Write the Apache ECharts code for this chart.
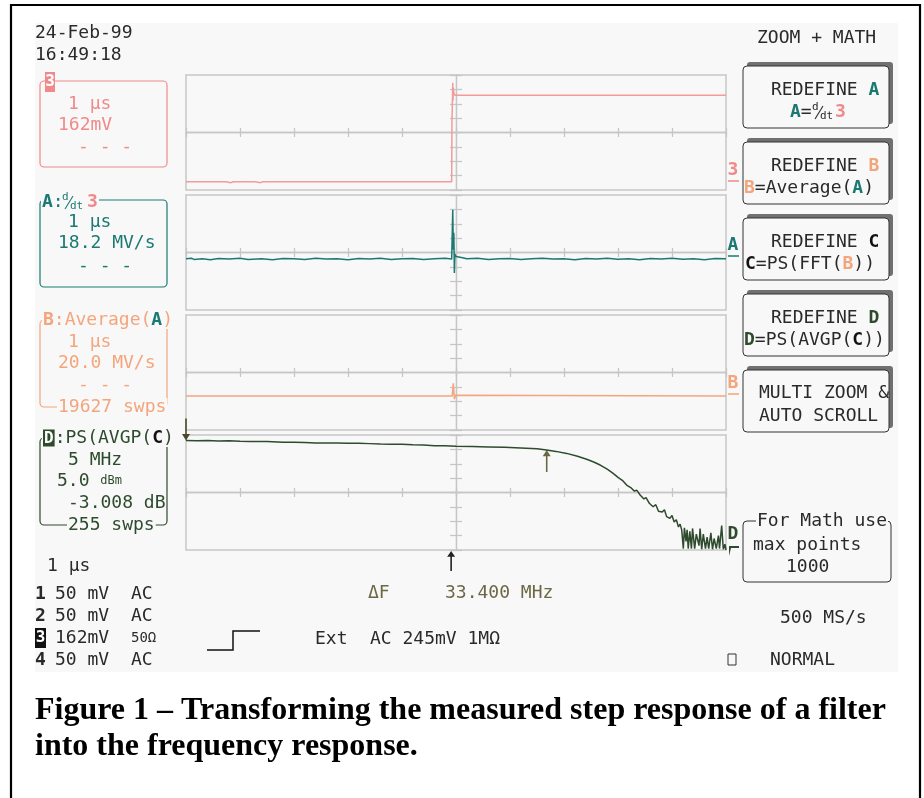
<!DOCTYPE html>
<html><head><meta charset="utf-8">
<script src="https://cdn.jsdelivr.net/npm/echarts@6/dist/echarts.min.js"></script>
<style>html,body{margin:0;padding:0;background:#fff}#c{width:924px;height:798px}</style>
</head><body><div id="c"></div>
<script>
// ---------- DATA (divisions: x -5..5, y -4..4) ----------
const xRange = [-5, 5];
const yRange = [-4, 4];
const ch3Trace = [[-5,-3.43],[-4.48,-3.43],[-4.46,-3.37],[-4.43,-3.43],[-4.3,-3.43],[-4.28,-3.37],[-4.25,-3.43],[-4.18,-3.49],[-4.12,-3.43],[-3.8,-3.43],[-3.78,-3.49],[-3.72,-3.43],[-3.62,-3.49],[-3.58,-3.43],[-3.0,-3.43],[-2.98,-3.37],[-2.95,-3.43],[-2.72,-3.43],[-2.7,-3.37],[-2.66,-3.43],[-2.45,-3.43],[-2.43,-3.49],[-2.4,-3.43],[-2.12,-3.43],[-2.1,-3.37],[-2.06,-3.43],[-1.76,-3.43],[-1.74,-3.49],[-1.7,-3.43],[-1.4,-3.43],[-1.38,-3.37],[-1.35,-3.43],[-0.6,-3.43],[-0.58,-3.49],[-0.55,-3.43],[-0.08,-3.43],[-0.075,0.6],[-0.06,3.46],[-0.055,2.2],[-0.05,3.1],[-0.04,2.75],[-0.02,2.6],[0.2,2.6],[0.22,2.54],[0.25,2.6],[0.6,2.6],[0.62,2.66],[0.65,2.6],[1.0,2.6],[1.03,2.54],[1.06,2.6],[1.5,2.6],[1.52,2.66],[1.56,2.6],[2.1,2.6],[2.13,2.54],[2.16,2.6],[2.7,2.6],[2.72,2.66],[2.75,2.6],[3.3,2.6],[3.32,2.54],[3.35,2.6],[3.9,2.6],[3.93,2.66],[3.96,2.6],[4.5,2.6],[4.52,2.54],[4.55,2.6],[4.8,2.6],[4.83,2.68],[4.86,2.6],[5,2.6]];
const chATrace = [[-5,-0.44],[-4.9,-0.4],[-4.85,-0.48],[-4.7,-0.44],[-4.55,-0.5],[-4.4,-0.42],[-4.2,-0.46],[-4.0,-0.4],[-3.85,-0.48],[-3.6,-0.44],[-3.4,-0.5],[-3.2,-0.42],[-3.0,-0.44],[-2.8,-0.48],[-2.6,-0.4],[-2.4,-0.46],[-2.2,-0.44],[-2.0,-0.5],[-1.8,-0.42],[-1.6,-0.45],[-1.4,-0.4],[-1.2,-0.48],[-1.0,-0.44],[-0.8,-0.42],[-0.6,-0.48],[-0.4,-0.44],[-0.2,-0.4],[-0.08,-0.46],[-0.06,2.98],[-0.05,0.2],[-0.04,1.37],[-0.03,-1.42],[-0.02,-0.1],[0.0,-0.28],[0.1,-0.35],[0.2,-0.44],[0.4,-0.4],[0.6,-0.48],[0.8,-0.44],[1.0,-0.42],[1.2,-0.48],[1.4,-0.44],[1.6,-0.4],[1.8,-0.46],[2.0,-0.44],[2.2,-0.5],[2.4,-0.42],[2.6,-0.46],[2.8,-0.4],[3.0,-0.47],[3.2,-0.44],[3.4,-0.5],[3.6,-0.42],[3.8,-0.46],[4.0,-0.4],[4.2,-0.47],[4.4,-0.44],[4.6,-0.5],[4.8,-0.42],[5,-0.44]];
const chBTrace = [[-5,-1.63],[-1.0,-1.63],[-0.07,-1.63],[-0.05,-0.75],[-0.04,-1.3],[-0.03,-1.85],[-0.01,-1.58],[0.02,-1.63],[5,-1.63]];
const chDTrace = [[-5,3.62],[-4.8,3.6],[-4.6,3.62],[-4.4,3.58],[-4.2,3.6],[-4.0,3.56],[-3.8,3.55],[-3.5,3.54],[-3.2,3.5],[-3.0,3.5],[-2.8,3.48],[-2.6,3.45],[-2.4,3.44],[-2.2,3.45],[-2.0,3.42],[-1.8,3.42],[-1.6,3.4],[-1.4,3.37],[-1.2,3.36],[-1.0,3.35],[-0.8,3.32],[-0.6,3.3],[-0.4,3.26],[-0.2,3.25],[0,3.22],[0.3,3.2],[0.6,3.17],[0.9,3.14],[1.2,3.1],[1.5,3.05],[1.68,2.96],[1.85,2.86],[2.05,2.72],[2.25,2.52],[2.42,2.31],[2.55,2.12],[2.67,1.91],[2.8,1.62],[2.91,1.33],[3.0,1.05],[3.08,0.85],[3.16,0.52],[3.25,0.3],[3.3,0.1],[3.35,0.15],[3.41,-0.17],[3.48,-0.45],[3.52,-0.35],[3.58,-0.75],[3.65,-0.99],[3.7,-0.85],[3.75,-1.3],[3.82,-1.35],[3.86,-1.2],[3.9,-1.68],[3.96,-1.8],[4.0,-1.6],[4.04,-2.05],[4.08,-1.9],[4.12,-2.4],[4.15,-2.2],[4.18,-2.6],[4.2,-2.5],[4.21,-3.9],[4.23,-2.45],[4.26,-3.4],[4.28,-2.6],[4.3,-3.9],[4.33,-2.7],[4.36,-3.9],[4.38,-2.5],[4.42,-3.9],[4.45,-2.9],[4.5,-3.7],[4.52,-2.5],[4.55,-3.95],[4.58,-2.9],[4.62,-3.9],[4.65,-3.1],[4.68,-3.9],[4.72,-2.8],[4.75,-3.95],[4.78,-3.2],[4.82,-3.9],[4.86,-3.0],[4.88,-3.9],[4.92,-2.3],[4.95,-3.95],[4.98,-3.6],[5,-4]];
const cursorRef = [-5, 3.62];     // start marker on D
const cursorFreq = [1.68, 2.96];  // cursor on D
const cursorTime = [-0.09, -4];   // marker below D

// ---------- STYLE ----------
const MONO = '"DejaVu Sans Mono", monospace';
const SCR = '#f8f8f8', GRIDC = '#c6c6c6';
const SAL = '#f08a8a', TEAL = '#1a7a72', ORG = '#f4a57c', DGR = '#2e4b2e', OLV = '#6b6845', INK = '#2a2a2a';
const gridTops = [75, 195, 315, 435];

function font(sz, w){ return (w||'normal') + ' ' + sz + 'px ' + MONO; }
function T(x, y, text, o){
  o = o || {};
  const st = {text: text, fill: o.fill || INK, font: font(o.size||18, o.weight),
    align: o.align || 'left', verticalAlign: 'middle', textAlign: o.align || 'left', textVerticalAlign: 'middle'};
  if (o.rich) st.rich = o.rich;
  if (o.bg) { st.backgroundColor = o.bg; st.padding = [0,1,0,1]; }
  return {type:'text', x: x, y: y, z: o.z || 20, style: st};
}
function R(x, y, w, h, o){
  o = o || {};
  return {type:'rect', z: o.z == null ? 10 : o.z, shape:{x:x, y:y, width:w, height:h, r: o.r || 0},
    style:{fill: o.fill || 'none', stroke: o.stroke || null, lineWidth: o.lw || 1.2}};
}
function L(pts, color, lw, z){ return {type:'polyline', z: z||15, shape:{points: pts}, style:{stroke: color, lineWidth: lw||1.3, fill:'none'}}; }
function rs(fill, sz, w, extra){ return Object.assign({fill: fill, fontSize: sz||18, fontFamily: MONO, fontWeight: w||'normal'}, extra||{}); }
// stacked d/dt glyph
function frac(x, y, color){
  return [
    T(x, y-5, 'd', {fill: color, size: 11, z: 22}),
    L([[x+3, y+7], [x+11, y-6]], color, 1.1, 22),
    T(x+8, y+4, 'dt', {fill: color, size: 11, z: 22})
  ];
}

const g = [];
// frame & screen
g.push(R(11, 5, 909, 810, {stroke:'#000', lw:2.2, z:-20}));
g.push(R(35, 23, 863, 649, {fill: SCR, z:-15}));
// date
g.push(T(35, 33, '24-Feb-99'));
g.push(T(35, 55, '16:49:18'));
// Box 3
g.push(R(40, 81, 127, 86, {stroke: SAL, r: 4}));
g.push(R(45, 72, 10, 20, {fill: SAL, z: 18}));
g.push(T(50, 82, '3', {fill:'#fff', weight:'bold', size:16, align:'center'}));
g.push(T(68, 104, '1 µs', {fill: SAL}));
g.push(T(58, 125, '162mV', {fill: SAL}));
g.push(T(78, 147, '- - -', {fill: SAL}));
// Box A
g.push(R(40, 200, 127, 87, {stroke: TEAL, r: 4}));
g.push(R(41, 194, 58, 12, {fill: SCR, z: 12}));
g.push(T(42, 202, '{a|A}:', {fill: TEAL, rich:{a: rs(TEAL,18,'bold')}}));
frac(62, 202, TEAL).forEach(function(e){ g.push(e); });
g.push(T(87, 202, '3', {fill: SAL, weight:'bold'}));
g.push(T(68, 222, '1 µs', {fill: TEAL}));
g.push(T(58, 243, '18.2 MV/s', {fill: TEAL}));
g.push(T(78, 266, '- - -', {fill: TEAL}));
// Box B
g.push(R(40, 320, 127, 87, {stroke: ORG, r: 4}));
g.push(T(42, 320, '{b|B}:Average({t|A})', {fill: ORG, bg: SCR, rich:{b: rs(ORG,18,'bold'), t: rs(TEAL,18,'bold')}}));
g.push(T(68, 342, '1 µs', {fill: ORG}));
g.push(T(58, 363, '20.0 MV/s', {fill: ORG}));
g.push(T(78, 385, '- - -', {fill: ORG}));
g.push(T(57, 407, '19627 swps', {fill: ORG, bg: SCR}));
// Box D
g.push(R(40, 438, 127, 87, {stroke: DGR, r: 4}));
g.push(T(42, 438, '{d|D}:PS(AVGP({c|C})', {fill: DGR, bg: SCR, rich:{d: rs('#fff',16,'bold',{backgroundColor: DGR, padding:[1,1,0,1]}), c: rs('#111',18,'bold')}}));
g.push(T(68, 460, '5 MHz', {fill: DGR}));
g.push(T(57, 481, '5.0 {s|dBm}', {fill: DGR, rich:{s: rs(DGR,12)}}));
g.push(T(68, 503, '-3.008 dB', {fill: DGR}));
g.push(T(67, 525, '255 swps', {fill: DGR, bg: SCR}));
// bottom left
g.push(T(47, 566, '1 µs'));
const rowsY = [594, 616, 638, 660];
g.push(T(35, rowsY[0], '1', {weight:'bold'}));
g.push(T(35, rowsY[1], '2', {weight:'bold'}));
g.push(R(35, rowsY[2]-10, 11, 20, {fill:'#111', z:18}));
g.push(T(40.5, rowsY[2], '3', {fill:'#fff', weight:'bold', size:16, align:'center'}));
g.push(T(35, rowsY[3], '4', {weight:'bold'}));
g.push(T(55, rowsY[0], '50 mV')); g.push(T(131, rowsY[0], 'AC'));
g.push(T(55, rowsY[1], '50 mV')); g.push(T(131, rowsY[1], 'AC'));
g.push(T(55, rowsY[2], '162mV')); g.push(T(131, rowsY[2], '50Ω', {size:14}));
g.push(T(55, rowsY[3], '50 mV')); g.push(T(131, rowsY[3], 'AC'));
// bottom middle
g.push(T(368, 593, 'ΔF', {fill: OLV}));
g.push(T(445, 593, '33.400 MHz', {fill: OLV}));
g.push(L([[207,650],[233,650],[233,631],[260,631]], '#111', 1.5));
g.push(T(315, 639, 'Ext'));
g.push(T(370, 639, 'AC 245mV 1MΩ'));
// right markers
g.push(T(733, 170, '3', {fill: SAL, weight:'bold', align:'center'}));
g.push(L([[728,181],[739,181]], SAL, 1.5));
g.push(T(733, 245, 'A', {fill: TEAL, weight:'bold', align:'center'}));
g.push(L([[728,256],[739,256]], TEAL, 1.5));
g.push(T(733, 383, 'B', {fill: ORG, weight:'bold', align:'center'}));
g.push(L([[728,394],[739,394]], ORG, 1.5));
g.push(T(733, 534, 'D', {fill: DGR, weight:'bold', align:'center'}));
g.push({type:'polygon', z:15, shape:{points:[[729,546],[739,546],[739,548],[731,548],[729,556]]}, style:{fill: DGR}});
// right panel
g.push(T(757, 38, 'ZOOM + MATH'));
const btnTops = [66, 142, 218, 294, 370];
btnTops.forEach(function(t){
  g.push(R(747, t-4, 146, 62, {fill:'#707070', z:8, r:3}));
  g.push(R(743, t, 146, 62, {fill: SCR, stroke:'#333', lw:1, z:9, r:4}));
});
g.push(T(771, btnTops[0]+24, 'REDEFINE {t|A}', {rich:{t: rs(TEAL,18,'bold')}}));
g.push(T(790, btnTops[0]+46, '{t|A}=', {rich:{t: rs(TEAL,18,'bold')}}));
frac(812, btnTops[0]+46, INK).forEach(function(e){ g.push(e); });
g.push(T(835, btnTops[0]+46, '3', {fill: SAL, weight:'bold'}));
g.push(T(771, btnTops[1]+24, 'REDEFINE {o|B}', {rich:{o: rs(ORG,18,'bold')}}));
g.push(T(744, btnTops[1]+46, '{o|B}=Average({t|A})', {rich:{o: rs(ORG,18,'bold'), t: rs(TEAL,18,'bold')}}));
g.push(T(771, btnTops[2]+24, 'REDEFINE {c|C}', {rich:{c: rs('#111',18,'bold')}}));
g.push(T(745, btnTops[2]+46, '{c|C}=PS(FFT({o|B}))', {rich:{c: rs('#111',18,'bold'), o: rs(ORG,18,'bold')}}));
g.push(T(771, btnTops[3]+24, 'REDEFINE {d|D}', {rich:{d: rs(DGR,18,'bold')}}));
g.push(T(744, btnTops[3]+46, '{d|D}=PS(AVGP({c|C}))', {rich:{d: rs(DGR,18,'bold'), c: rs('#111',18,'bold')}}));
g.push(T(759, btnTops[4]+23, 'MULTI ZOOM &'));
g.push(T(759, btnTops[4]+46, 'AUTO SCROLL'));
g.push(R(743, 521, 148, 61, {stroke:'#333', lw:1, r:4}));
g.push(T(756, 521, 'For Math use', {bg: SCR}));
g.push(T(753, 545, 'max points'));
g.push(T(786, 567, '1000'));
g.push(T(780, 618, '500 MS/s'));
g.push(R(728, 654, 8, 11, {stroke:'#333', lw:1}));
g.push(T(770, 660, 'NORMAL'));
// caption
g.push({type:'text', x:35, y:711, z:20, style:{text:'Figure 1 – Transforming the measured step response of a filter', fill:'#000', font:'bold 32px "Liberation Serif", serif', verticalAlign:'middle', textVerticalAlign:'middle'}});
g.push({type:'text', x:35, y:747, z:20, style:{text:'into the frequency response.', fill:'#000', font:'bold 32px "Liberation Serif", serif', verticalAlign:'middle', textVerticalAlign:'middle'}});

// ---------- AXES ----------
const grids = [], xAxes = [], yAxes = [];
gridTops.forEach(function(t, i){
  grids.push({left:186, top:t, width:540, height:115, show:true, borderColor:GRIDC, borderWidth:1.5, backgroundColor:'transparent'});
  ['bottom','top'].forEach(function(p){
    xAxes.push({gridIndex:i, type:'value', min:xRange[0], max:xRange[1], interval:1, position:p,
      axisLine:{show:true, onZero:true, lineStyle:{color:GRIDC, width:1.3}},
      axisTick:{show:true, length:4.5, lineStyle:{color:GRIDC, width:1.3}}, axisLabel:{show:false}, splitLine:{show:false}});
  });
  ['left','right'].forEach(function(p){
    yAxes.push({gridIndex:i, type:'value', min:yRange[0], max:yRange[1], interval:1, position:p,
      axisLine:{show:true, onZero:true, lineStyle:{color:GRIDC, width:1.3}},
      axisTick:{show:true, length:6, lineStyle:{color:GRIDC, width:1.3}}, axisLabel:{show:false}, splitLine:{show:false}});
  });
});

const upArrow = 'path://M4,0 L8,7 L4.8,7 L4.8,24 L3.2,24 L3.2,7 L0,7 Z';
const downArrow = 'path://M3.2,0 L4.8,0 L4.8,17 L8,17 L4,24 L0,17 L3.2,17 Z';
function trace(i, data, color){
  return {type:'line', xAxisIndex:i*2, yAxisIndex:i*2, data:data, showSymbol:false, symbol:'none',
    lineStyle:{color:color, width:1.5}, itemStyle:{color:color}, z:5, silent:true};
}
const sD = trace(3, chDTrace, DGR);
sD.markPoint = {silent:true, label:{show:false}, data:[
  {coord: cursorFreq, symbol: upArrow, symbolSize:[8,22], symbolOffset:[0,11], itemStyle:{color:OLV}},
  {coord: cursorRef, symbol: downArrow, symbolSize:[8,22], symbolOffset:[0,-11], itemStyle:{color:'#4a4a2a'}},
  {coord: cursorTime, symbol: upArrow, symbolSize:[8,20], symbolOffset:[0,11], itemStyle:{color:'#222'}}
]};

const chart = echarts.init(document.getElementById('c'), null, {renderer:'canvas'});
chart.setOption({
  backgroundColor:'#fff', animation:false,
  grid: grids, xAxis: xAxes, yAxis: yAxes,
  graphic: {elements: g},
  series: [trace(0, ch3Trace, '#f39a9a'), trace(1, chATrace, TEAL), trace(2, chBTrace, ORG), sD]
});
</script></body></html>
